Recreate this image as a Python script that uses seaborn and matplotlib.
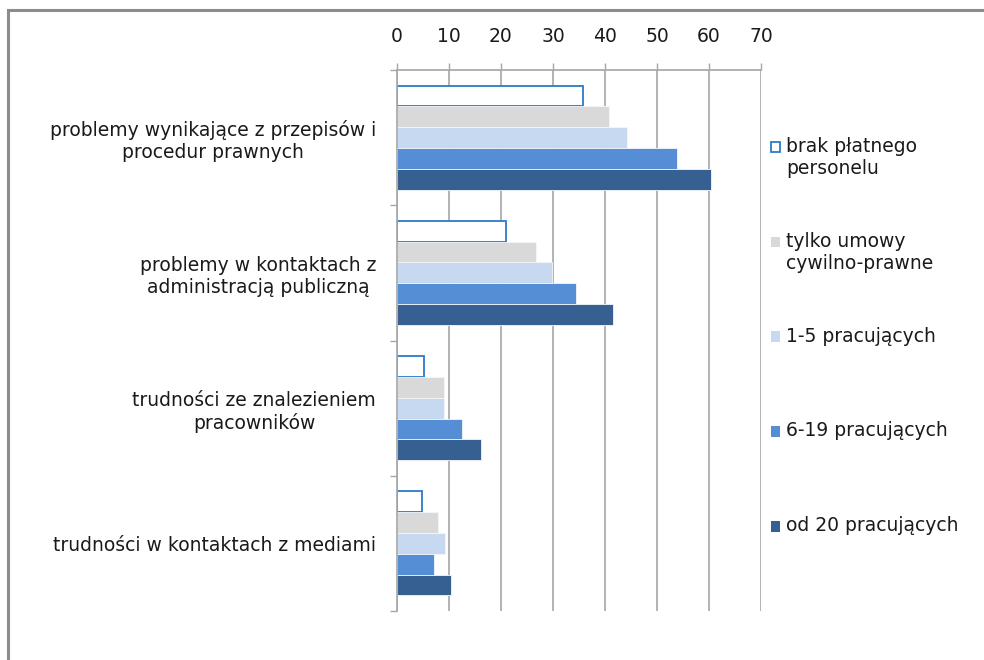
import matplotlib
matplotlib.use("Agg")
import matplotlib.pyplot as plt
import seaborn as sns
import pandas as pd
from matplotlib.patches import Rectangle
from matplotlib.legend_handler import HandlerPatch

categories = [
    "problemy wynikające z przepisów i\nprocedur prawnych",
    "problemy w kontaktach z\nadministracją publiczną",
    "trudności ze znalezieniem\npracowników",
    "trudności w kontaktach z mediami",
]
series = [
    "brak płatnego\npersonelu",
    "tylko umowy\ncywilno-prawne",
    "1-5 pracujących",
    "6-19 pracujących",
    "od 20 pracujących",
]
brak = [35.8, 20.9, 5.1, 4.8]
tylko = [40.8, 26.7, 9.0, 7.9]
p1_5 = [44.2, 29.8, 9.0, 9.3]
p6_19 = [53.9, 34.5, 12.5, 7.1]
od20 = [60.3, 41.5, 16.2, 10.3]
x_ticks = [0, 10, 20, 30, 40, 50, 60, 70]

values = [brak, tylko, p1_5, p6_19, od20]
rows = []
for s, vals in zip(series, values):
    for c, v in zip(categories, vals):
        rows.append({"kategoria": c, "seria": s, "wartosc": v})
df = pd.DataFrame(rows)

colors = ["#FFFFFF", "#D9D9D9", "#C6D9F1", "#558ED5", "#376092"]

sns.set_theme(style="white")
plt.rcParams["font.family"] = ["DejaVu Sans"]

FS = 13.5
fig = plt.figure(figsize=(9.84, 6.6), dpi=100)
W, H = 984, 660
ax = fig.add_axes([397 / W, 1 - 611 / H, (761 - 397) / W, (611 - 70) / H])

sns.barplot(data=df, y="kategoria", x="wartosc", hue="seria", order=categories,
            hue_order=series, palette=colors, saturation=1, orient="h",
            width=0.77, gap=0, edgecolor="#F4F7FB", linewidth=0.6, ax=ax)

blue_edge = "#2A7BC8"
for p in ax.containers[0]:
    p.set_facecolor("white")
    p.set_edgecolor(blue_edge)
    p.set_linewidth(1.3)

ax.set_xlim(0, 70)
ax.set_ylim(3.5, -0.5)
ax.set_xlabel("")
ax.set_ylabel("")

grey = "#A6A6A6"
ax.xaxis.tick_top()
ax.set_xticks(x_ticks)
ax.set_xticklabels([str(t) for t in x_ticks])
ax.tick_params(axis="x", which="major", direction="out", length=5, width=1,
               color=grey, pad=12, labelsize=FS, labelcolor="#1A1A1A")
ax.grid(axis="x", color="#ADADAD", linewidth=1.3)
ax.grid(axis="y", visible=False)
ax.set_axisbelow(True)

ax.set_yticks([-0.5, 0.5, 1.5, 2.5, 3.5])
ax.set_yticklabels([])
ax.set_yticks([0, 1, 2, 3], labels=categories, minor=True)
ax.tick_params(axis="y", which="major", direction="out", length=5, width=1,
               color=grey, left=True)
ax.tick_params(axis="y", which="minor", length=0, pad=15, labelsize=FS,
               labelcolor="#1A1A1A", left=True)
for t in ax.get_yticklabels(minor=True):
    t.set_multialignment("center")
    t.set_linespacing(1.2)

for side in ["right", "bottom"]:
    ax.spines[side].set_visible(False)
for side in ["left", "top"]:
    ax.spines[side].set_color(grey)
    ax.spines[side].set_linewidth(1.2)

handles, labels = ax.get_legend_handles_labels()
if ax.get_legend() is not None:
    ax.get_legend().remove()
# pad every legend label to two lines so first lines are evenly spaced
labels2 = [l if "\n" in l else l + "\n " for l in labels]

LINE_PT = FS * 1.2


def top_square(legend, orig_handle, xdescent, ydescent, width, height, fontsize):
    return Rectangle((-xdescent, -ydescent + LINE_PT / 2), width, height)


leg = fig.legend(handles, labels2, loc="upper left",
                 bbox_to_anchor=(771 / W, 1 - 137 / H), frameon=False,
                 fontsize=FS, labelspacing=2.87, handlelength=0.5,
                 handleheight=0.5, handletextpad=0.3, borderpad=0,
                 borderaxespad=0,
                 handler_map={h: HandlerPatch(patch_func=top_square) for h in handles})
for txt in leg.get_texts():
    txt.set_color("#1A1A1A")
    txt.set_linespacing(1.2)
lh = leg.legend_handles
lh[0].set_facecolor("white")
lh[0].set_edgecolor(blue_edge)
lh[0].set_linewidth(1.3)
for h in lh[1:]:
    h.set_edgecolor("none")

border = Rectangle((8 / W, -0.2), 2.0, 1.2 - 10 / H, transform=fig.transFigure,
                   fill=False, edgecolor="#8C8C8C", linewidth=2.2)
fig.patches.append(border)

fig.savefig("out.png", dpi=100)
